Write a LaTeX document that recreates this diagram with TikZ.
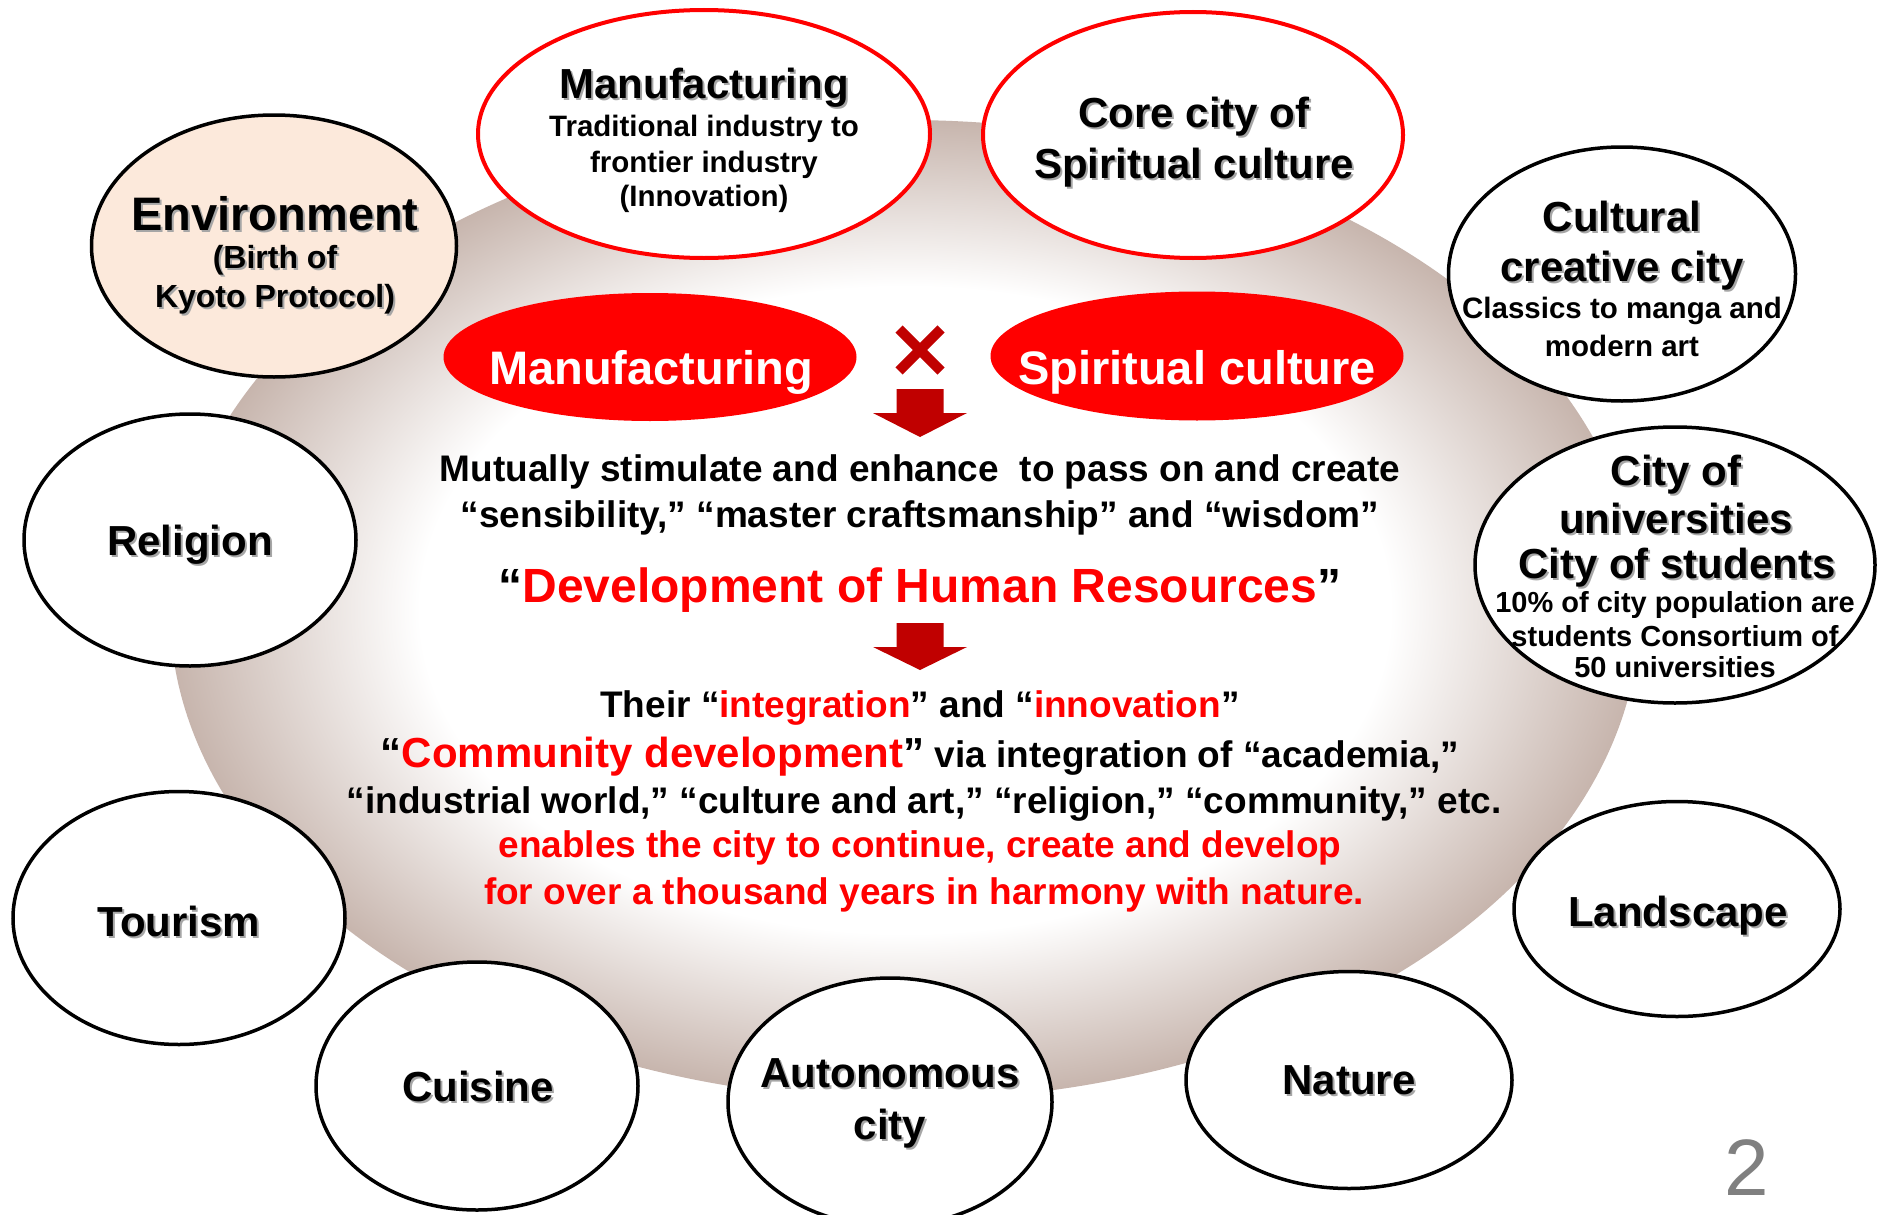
\documentclass[tikz,border=0pt]{standalone}
\usepackage{fontspec}
\setmainfont{Liberation Sans}
\usetikzlibrary{shapes.geometric}
\definecolor{pred}{RGB}{255,0,0}
\definecolor{dred}{RGB}{192,0,0}
\definecolor{peach}{RGB}{252,233,219}
\definecolor{halo}{RGB}{199,181,173}
\definecolor{pgnum}{RGB}{128,128,128}
% white plateau fading to a warm grey at the rim (rim = 25bp in TikZ's fitting)
\pgfdeclareradialshading{bgfade}{\pgfpointorigin}{color(0bp)=(white); color(16.5bp)=(white); color(25bp)=(halo); color(50bp)=(halo)}
% bold face at a given size
\newcommand\fs[1]{\fontsize{#1}{#1}\selectfont\bfseries}
% soft drop shadow behind a title
\newcommand\dropsh[1]{\makebox[0pt][l]{\hspace{2pt}\raisebox{-2pt}{\textcolor{black!35}{#1}}}#1}
\tikzset{
  sat/.style={ellipse, draw=black, line width=3.5pt, fill=white, inner sep=0pt},
  redring/.style={ellipse, draw=pred, line width=4pt, fill=white, inner sep=0pt},
  redblob/.style={ellipse, fill=pred, inner sep=0pt},
  size/.style 2 args={minimum width=#1pt, minimum height=#2pt},
  lbl/.style={inner sep=0pt, anchor=center},
  big/.style={lbl, font=\fs{42}},
  mid/.style={lbl, font=\fs{37}},
}
\begin{document}
\begin{tikzpicture}[x=1pt,y=-1pt]
\useasboundingbox (0,0) rectangle (1877,1215);
\clip (0,0) rectangle (1877,1215);
\fill[white] (0,0) rectangle (1877,1215);

% soft halo behind the centre
\shade[shading=bgfade] (905,610) ellipse [x radius=735pt, y radius=490pt];

% surrounding ellipses
\node[sat, fill=peach, size={365}{262}] (env) at (274,246) {};
\node[redring, size={452}{248}] (mfg) at (704,134) {};
\node[redring, size={420}{246}] (core) at (1193,135) {};
\node[sat, size={347}{254}] (cult) at (1622,274) {};
\node[sat, size={400}{276}] (univ) at (1675,565) {};
\node[sat, size={332}{252}] (rel) at (190,540) {};
\node[sat, size={332}{253}] (tour) at (179,918) {};
\node[sat, size={322}{248}] (cuis) at (477,1086) {};
\node[sat, size={324}{248}] (auto) at (890,1102) {};
\node[sat, size={326}{217}] (nat) at (1349,1080) {};
\node[sat, size={326}{215}] (land) at (1677,909) {};

% texts of the surrounding ellipses
\node[lbl, font=\fs{47}] (env1) at (275,215) {\dropsh{Environment}};
\node[lbl, font=\fs{32}] (env2) at (275,261) {\dropsh{(Birth of}};
\node[lbl, font=\fs{32}] (env3) at (275,300) {\dropsh{Kyoto Protocol)}};

\node[big] (mfg1) at (704,89) {\dropsh{Manufacturing}};
\node[lbl, font=\fs{29.5}] (mfg2) at (704,129) {Traditional industry to};
\node[lbl, font=\fs{29.5}] (mfg3) at (704,165) {frontier industry};
\node[lbl, font=\fs{29.5}] (mfg4) at (704,199) {(Innovation)};

\node[big] (core1) at (1194,118) {\dropsh{Core city of}};
\node[big] (core2) at (1194,169) {\dropsh{Spiritual culture}};

\node[big] (cult1) at (1622,217) {\dropsh{Cultural}};
\node[big] (cult2) at (1622,272) {\dropsh{creative city}};
\node[lbl, font=\fs{29.5}] (cult3) at (1622,311) {Classics to manga and};
\node[lbl, font=\fs{29.5}] (cult4) at (1622,346) {modern art};

\node[big] (univ1) at (1676,476) {\dropsh{City of}};
\node[big] (univ2) at (1676,519) {\dropsh{universities}};
\node[big] (univ3) at (1677,569) {\dropsh{City of students}};
\node[lbl, font=\fs{29}] (univ4) at (1675,605) {10\% of city population are};
\node[lbl, font=\fs{29}] (univ5) at (1675,636) {students Consortium of};
\node[lbl, font=\fs{29}] (univ6) at (1675,667) {50 universities};

\node[big] (rel1) at (190,546) {\dropsh{Religion}};
\node[big] (tour1) at (179,922) {\dropsh{Tourism}};
\node[big] (cuis1) at (478,1087) {\dropsh{Cuisine}};
\node[big] (auto1) at (890,1074) {\dropsh{Autonomous}};
\node[big] (auto2) at (890,1130) {\dropsh{city}};
\node[big] (nat1) at (1349,1081) {\dropsh{Nature}};
\node[big] (land1) at (1678,917) {\dropsh{Landscape}};

% the two pillars
\node[redblob, size={413}{128}] (mfgR) at (650,357) {};
\node[redblob, size={413}{129}] (spiR) at (1197,356) {};
\node[lbl, font=\fs{47}, text=white] (mfgR1) at (651,372) {Manufacturing};
\node[lbl, font=\fs{47}, text=white] (spiR1) at (1197,372) {Spiritual culture};

% multiplication sign
\draw[dred, line width=10pt, line cap=butt] (899,329) -- (941,371) (941,329) -- (899,371);

% block arrows
\fill[dred] (896.5,389) -- (943.5,389) -- (943.5,413) -- (967,413) -- (920,437)
  -- (873,413) -- (896.5,413) -- cycle;
\fill[dred] (896.5,623) -- (943.5,623) -- (943.5,647) -- (967,647) -- (920,670)
  -- (873,647) -- (896.5,647) -- cycle;

% central statement
\node[mid] (c1) at (920,472) {Mutually stimulate and enhance\ \ to pass on and create};
\node[mid] (c2) at (920,518) {“sensibility,” “master craftsmanship” and “wisdom”};
\node[lbl, font=\fs{48}] (c3) at (920,590) {“\textcolor{pred}{Development of Human Resources}”};
\node[mid] (c4) at (920,708) {Their “\textcolor{pred}{integration}” and “\textcolor{pred}{innovation}”};
\node[mid] (c5) at (920,757) {{\fs{42}“\textcolor{pred}{Community development}”} via integration of “academia,”};
\node[mid] (c6) at (924,804) {“industrial world,” “culture and art,” “religion,” “community,” etc.};
\node[mid, text=pred] (c7) at (920,848) {enables the city to continue, create and develop};
\node[mid, text=pred] (c8) at (924,895) {for over a thousand years in harmony with nature.};

% page number
\node[lbl, font=\fontsize{80}{80}\selectfont, text=pgnum] (pg) at (1747,1168) {2};
\end{tikzpicture}
\end{document}
